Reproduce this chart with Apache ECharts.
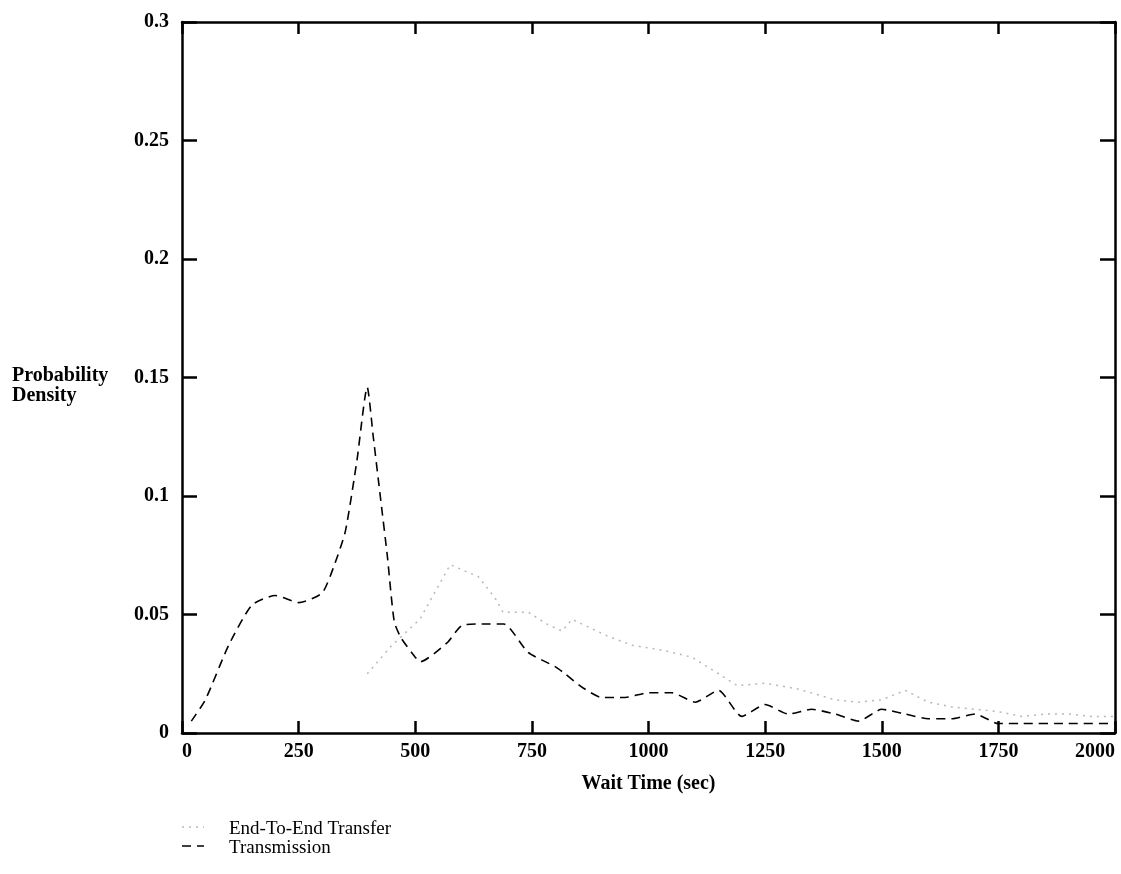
<!DOCTYPE html>
<html>
<head>
<meta charset="utf-8">
<script src="https://cdn.jsdelivr.net/npm/echarts@6/dist/echarts.min.js"></script>
<style>html,body{margin:0;padding:0;background:#fff;overflow:hidden}#c{width:1121px;height:874px}</style>
</head>
<body>
<div id="c"></div>
<script>
var xTicks = [0, 250, 500, 750, 1000, 1250, 1500, 1750, 2000];
var yTicks = [0, 0.05, 0.1, 0.15, 0.2, 0.25, 0.3];

var transmissionX = [20, 50, 100, 150, 200, 250, 300, 325, 350, 375, 397, 410, 425, 440, 455, 470, 500, 510, 568, 602, 650, 690, 742, 800, 821, 860, 900, 950, 1000, 1050, 1100, 1150, 1200, 1250, 1300, 1350, 1400, 1450, 1500, 1550, 1600, 1650, 1700, 1750, 1800, 1900, 2000];
var transmissionY = [0.005, 0.014, 0.037, 0.054, 0.058, 0.055, 0.059, 0.07, 0.085, 0.115, 0.146, 0.125, 0.1, 0.075, 0.047, 0.04, 0.032, 0.030, 0.038, 0.0456, 0.046, 0.046, 0.034, 0.028, 0.025, 0.019, 0.015, 0.015, 0.017, 0.017, 0.013, 0.018, 0.007, 0.012, 0.008, 0.01, 0.008, 0.005, 0.01, 0.008, 0.006, 0.006, 0.008, 0.004, 0.004, 0.004, 0.004];

var endToEndX = [397, 450, 510, 575, 635, 671, 688, 742, 782, 815, 836, 911, 965, 1029, 1093, 1150, 1190, 1250, 1320, 1400, 1450, 1500, 1550, 1600, 1650, 1700, 1750, 1800, 1850, 1900, 1950, 2000];
var endToEndY = [0.025, 0.037, 0.048, 0.071, 0.066, 0.057, 0.051, 0.051, 0.046, 0.043, 0.048, 0.041, 0.037, 0.035, 0.032, 0.025, 0.020, 0.021, 0.0186, 0.014, 0.013, 0.014, 0.018, 0.013, 0.011, 0.010, 0.009, 0.007, 0.008, 0.008, 0.007, 0.007];

var seriesNames = ['End-To-End Transfer', 'Transmission'];
var seriesColors = ['#b8b8b8', '#000'];
var seriesDash = [[2, 5], [9, 6]];

function zip(a, b) { return a.map(function (v, i) { return [v, b[i]]; }); }

var serif = 'Liberation Serif';
var chart = echarts.init(document.getElementById('c'));
var axisLine = { show: true, onZero: false, lineStyle: { color: '#000', width: 2.5 } };
function tick(len) { return { show: true, inside: true, length: len, lineStyle: { color: '#000', width: 2.5 } }; }

var legendGraphics = [];
seriesNames.forEach(function (n, i) {
  var y = 831 + i * 19;
  legendGraphics.push({
    type: 'line', shape: { x1: 182, y1: y - 4, x2: 204, y2: y - 4 },
    style: { stroke: seriesColors[i], lineWidth: 1.5, lineDash: seriesDash[i] }
  });
  legendGraphics.push({
    type: 'text', left: 229, top: y - 11,
    style: { text: n, fill: '#000', font: '19px "Liberation Serif"' }
  });
});

chart.setOption({
  animation: false,
  backgroundColor: '#fff',
  grid: { left: 182, right: 6, top: 22, bottom: 141, containLabel: false, outerBoundsMode: 'none' },
  xAxis: [{
    type: 'value', min: 0, max: 2000, interval: 250,
    axisLine: axisLine, axisTick: tick(12),
    splitLine: { show: false },
    axisLabel: { color: '#000', fontFamily: serif, fontWeight: 'bold', fontSize: 20, margin: 9,
      alignMinLabel: 'left', alignMaxLabel: 'right',
      formatter: function (v) { return xTicks.indexOf(v) >= 0 ? String(v) : ''; } },
    name: 'Wait Time (sec)', nameLocation: 'middle', nameGap: 41,
    nameTextStyle: { color: '#000', fontFamily: serif, fontWeight: 'bold', fontSize: 20 }
  }, {
    type: 'value', min: 0, max: 2000, interval: 250, position: 'top',
    axisLine: axisLine, axisTick: tick(12),
    splitLine: { show: false }, axisLabel: { show: false }
  }],
  yAxis: [{
    type: 'value', min: 0, max: 0.3, interval: 0.05,
    axisLine: axisLine, axisTick: tick(15),
    splitLine: { show: false },
    axisLabel: { color: '#000', fontFamily: serif, fontWeight: 'bold', fontSize: 20, margin: 13,
      formatter: function (v) {
        for (var i = 0; i < yTicks.length; i++) { if (Math.abs(yTicks[i] - v) < 1e-9) return String(yTicks[i]); }
        return '';
      } }
  }, {
    type: 'value', min: 0, max: 0.3, interval: 0.05, position: 'right',
    axisLine: axisLine, axisTick: tick(15),
    splitLine: { show: false }, axisLabel: { show: false }
  }],
  graphic: [{
    type: 'text', left: 12, top: 366,
    style: { text: 'Probability\nDensity', fill: '#000', font: 'bold 20px "Liberation Serif"', lineHeight: 20 }
  }].concat(legendGraphics),
  series: [{
    name: seriesNames[0], type: 'line', showSymbol: false, symbol: 'none',
    data: zip(endToEndX, endToEndY),
    lineStyle: { color: seriesColors[0], width: 1.5, type: seriesDash[0] },
    itemStyle: { color: seriesColors[0] }
  }, {
    name: seriesNames[1], type: 'line', showSymbol: false, symbol: 'none', smooth: 0.2,
    data: zip(transmissionX, transmissionY),
    lineStyle: { color: seriesColors[1], width: 1.6, type: seriesDash[1] },
    itemStyle: { color: seriesColors[1] }
  }]
});
</script>
</body>
</html>
